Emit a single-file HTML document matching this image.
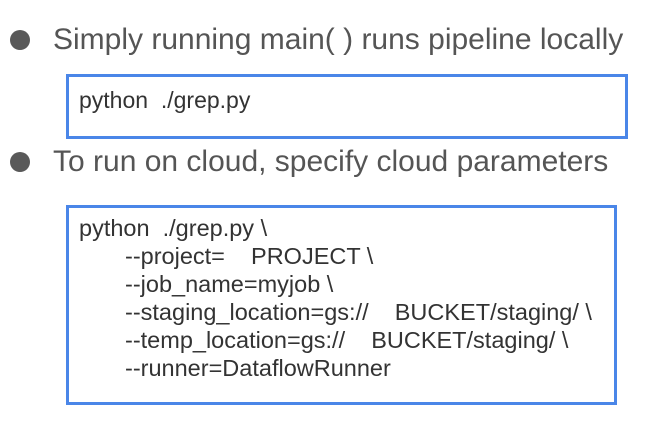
<!DOCTYPE html>
<html><head><style>
body{margin:0;width:662px;height:432px;background:#fff;position:relative;overflow:hidden;font-family:"Liberation Sans",sans-serif;}
.dot{position:absolute;width:20px;height:20px;border-radius:50%;background:#595959;}
.h{position:absolute;font-size:30px;color:#555;white-space:nowrap;line-height:1;}
.box{position:absolute;border:3px solid #4a86e8;box-sizing:border-box;}
.t{position:absolute;font-size:23.5px;color:#333;white-space:pre;line-height:28px;}
</style></head><body>
<div class="dot" style="left:10px;top:30px"></div>
<div class="h" style="left:53px;top:25px">Simply running main( ) runs pipeline locally</div>
<div class="box" style="left:66px;top:74px;width:562px;height:65px"></div>
<div class="t" style="left:79px;top:86px;font-size:23px">python  ./grep.py</div>
<div class="dot" style="left:10px;top:152px"></div>
<div class="h" style="left:53px;top:147px">To run on cloud, specify cloud parameters</div>
<div class="box" style="left:66px;top:205px;width:551px;height:200px"></div>
<div class="t" style="left:79px;top:214px">python  ./grep.py \</div>
<div class="t" style="left:125px;top:242px">--project=    PROJECT \
--job_name=myjob \
--staging_location=gs://    BUCKET/staging/ \
--temp_location=gs://    BUCKET/staging/ \
--runner=DataflowRunner</div>
</body></html>
